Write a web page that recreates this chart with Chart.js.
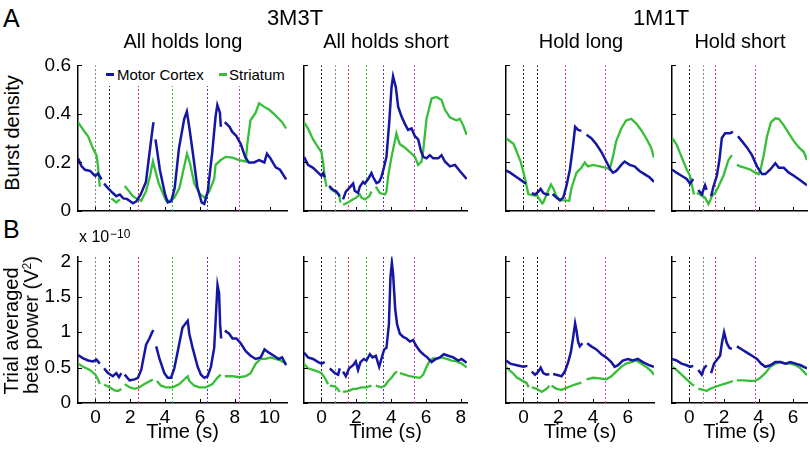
<!DOCTYPE html>
<html>
<head>
<meta charset="utf-8">
<script src="https://cdn.jsdelivr.net/npm/chart.js@4.4.1/dist/chart.umd.min.js"></script>
<style>
  body { margin: 0; width: 810px; height: 450px; background: #fff; position: relative; overflow: hidden;
         font-family: "Liberation Sans", Arial, sans-serif; color: #000; }
  canvas { position: absolute; }
  .txt { position: absolute; white-space: nowrap; line-height: 1; }
</style>
</head>
<body>
<script>
// ---- data: [time (s), value], null value = break in the trace ----
const xTicksLong = [0, 2, 4, 6, 8, 10];
const xTicksShort = [0, 2, 4, 6, 8];
const xTicksHold = [0, 2, 4, 6];
const burstTicks = [0, 0.2, 0.4, 0.6];
const powerTicks = [0, 0.5, 1, 1.5, 2];

// event markers (s) for each task
const eventsLong = [0, 0.78, 2.42, 4.4, 6.38, 8.27];
const eventsShort = [0, 0.77, 1.5, 2.53, 3.54, 5.32];
const eventsHoldLong = [0, 0.8, 2.4, 4.67];
const eventsHoldShort = [0, 0.77, 1.49, 3.77];

// burst density
const burstLongMotor = [[-1,0.217],[-0.8,0.185],[-0.6,0.17],[-0.3,0.165],[-0.1,0.15],[0,0.145],[0.15,0.155],[0.35,0.13],[0.42,null],[0.5,0.113],[0.72,0.094],[1.0,0.074],[1.2,0.061],[1.4,0.068],[1.6,0.052],[1.8,0.05],[2.0,0.04],[2.15,0.032],[2.35,0.04],[2.6,0.068],[2.9,0.12],[3.1,0.236],[3.3,0.35],[3.34,0.366],[3.4,null],[3.45,0.295],[3.7,0.17],[4.0,0.068],[4.15,0.035],[4.35,0.04],[4.55,0.094],[4.8,0.26],[5.1,0.38],[5.25,0.41],[5.4,0.34],[5.6,0.236],[5.85,0.1],[6.1,0.035],[6.25,0.029],[6.45,0.08],[6.7,0.236],[6.9,0.39],[7.0,0.437],[7.15,0.405],[7.2,0.347],[7.3,null],[7.43,0.366],[7.7,0.347],[7.85,0.327],[8.1,0.308],[8.35,0.275],[8.6,0.223],[8.8,0.2],[9.1,0.2],[9.4,0.21],[9.7,0.2],[9.85,0.236],[10.05,0.217],[10.35,0.18],[10.6,0.17],[10.95,0.13]];
const burstLongStriatum = [[-1,0.366],[-0.7,0.334],[-0.42,0.308],[-0.13,0.256],[0.06,0.23],[0.15,0.184],[0.25,0.1],[0.6,null],[0.9,0.05],[1.0,0.048],[1.2,0.035],[1.4,0.048],[1.55,null],[1.68,0.103],[1.87,0.087],[2.15,0.061],[2.44,0.048],[2.63,0.042],[2.9,0.08],[3.14,0.145],[3.3,0.204],[3.5,0.15],[3.64,0.113],[3.87,0.074],[4.06,0.042],[4.35,0.044],[4.53,0.055],[4.82,0.094],[5.1,0.184],[5.26,0.236],[5.43,0.197],[5.68,0.113],[5.96,0.074],[6.25,0.055],[6.53,0.08],[6.82,0.132],[6.9,0.19],[7.2,0.21],[7.49,0.223],[7.87,0.22],[8.25,0.21],[8.63,0.204],[8.72,0.275],[8.9,0.373],[9.2,0.405],[9.4,0.444],[9.67,0.43],[9.96,0.418],[10.25,0.4],[10.53,0.38],[10.72,0.366],[10.95,0.34]];
const burstShortMotor = [[-1,0.223],[-0.77,0.19],[-0.48,0.178],[-0.19,0.158],[0,0.145],[0.1,0.156],[0.19,0.139],[0.3,null],[0.44,0.103],[0.67,0.087],[0.86,0.08],[1.05,0.061],[1.15,null],[1.24,0.048],[1.4,0.08],[1.59,0.094],[1.82,0.113],[1.91,0.083],[2.1,0.074],[2.2,0.1],[2.39,0.12],[2.49,0.113],[2.68,0.132],[2.87,0.156],[2.97,0.139],[3.16,0.115],[3.31,0.12],[3.44,0.14],[3.58,0.178],[3.73,0.223],[3.89,0.366],[4.02,0.509],[4.11,0.555],[4.27,0.509],[4.4,0.43],[4.59,0.39],[4.78,0.36],[4.97,0.334],[5.17,0.34],[5.36,0.308],[5.55,0.295],[5.7,0.25],[5.84,0.223],[6.03,0.217],[6.22,0.23],[6.41,0.217],[6.7,0.217],[6.89,0.23],[7.08,0.204],[7.37,0.184],[7.66,0.19],[7.94,0.165],[8.33,0.132]];
const burstShortStriatum = [[-1,0.366],[-0.77,0.34],[-0.48,0.295],[-0.19,0.262],[0,0.243],[0.1,0.197],[0.19,0.139],[0.29,0.1],[0.38,null],[0.48,0.094],[0.76,0.08],[1.01,0.068],[1.09,0.035],[1.16,null],[1.24,0.026],[1.52,0.035],[1.82,0.048],[2.0,0.055],[2.2,0.068],[2.3,0.055],[2.49,0.048],[2.74,0.061],[2.87,0.08],[3.0,null],[3.12,0.1],[3.35,0.074],[3.64,0.068],[3.73,0.08],[3.83,0.145],[4.02,0.223],[4.21,0.288],[4.3,0.32],[4.4,0.295],[4.5,0.275],[4.78,0.262],[5.07,0.243],[5.36,0.223],[5.55,0.19],[5.74,0.204],[5.84,0.25],[6.03,0.38],[6.32,0.464],[6.6,0.47],[6.89,0.457],[7.08,0.418],[7.37,0.386],[7.75,0.373],[7.94,0.38],[8.13,0.353],[8.33,0.314]];
const burstHoldLongMotor = [[-1,0.167],[-0.76,0.158],[-0.38,0.139],[0,0.12],[0.15,0.113],[0.3,null],[0.48,0.074],[0.67,0.068],[0.86,0.08],[0.99,0.091],[1.14,0.074],[1.33,0.068],[1.49,0.068],[1.58,null],[1.68,0.07],[1.9,0.055],[2.1,0.044],[2.29,0.055],[2.48,0.106],[2.67,0.171],[2.86,0.275],[2.97,0.347],[3.14,0.334],[3.33,0.33],[3.48,null],[3.62,0.314],[3.9,0.3],[4.19,0.275],[4.48,0.243],[4.76,0.204],[5.0,0.171],[5.14,0.158],[5.33,0.165],[5.62,0.19],[5.81,0.204],[6.1,0.19],[6.38,0.184],[6.67,0.165],[6.95,0.152],[7.24,0.139],[7.5,0.12]];
const burstHoldLongStriatum = [[-1,0.3],[-0.57,0.277],[-0.17,0.206],[0.1,0.132],[0.28,0.07],[0.5,0.065],[0.8,0.062],[1.08,0.031],[1.14,0.035],[1.33,0.068],[1.58,0.109],[1.71,0.094],[1.9,0.061],[2.1,0.045],[2.38,0.044],[2.63,0.042],[2.76,0.094],[3.05,0.158],[3.33,0.178],[3.52,0.2],[3.71,0.184],[4.0,0.19],[4.38,0.184],[4.76,0.178],[4.95,0.171],[5.14,0.223],[5.33,0.288],[5.62,0.34],[5.9,0.373],[6.19,0.38],[6.48,0.36],[6.76,0.334],[7.05,0.3],[7.33,0.262],[7.5,0.22]];
const burstHoldShortMotor = [[-1,0.171],[-0.74,0.158],[-0.45,0.145],[-0.15,0.132],[0.04,0.113],[0.23,0.132],[0.35,null],[0.52,0.087],[0.72,0.068],[0.91,0.106],[1.0,0.087],[1.12,null],[1.26,0.061],[1.39,0.1],[1.59,0.145],[1.74,0.21],[1.88,0.301],[2.07,0.32],[2.36,0.32],[2.52,0.327],[2.65,null],[2.81,0.308],[3.04,0.288],[3.33,0.262],[3.62,0.23],[3.91,0.184],[4.2,0.152],[4.39,0.152],[4.68,0.171],[4.97,0.197],[5.17,0.178],[5.46,0.178],[5.75,0.158],[6.04,0.145],[6.43,0.126],[6.8,0.106]];
const burstHoldShortStriatum = [[-1,0.301],[-0.74,0.275],[-0.45,0.223],[-0.15,0.171],[0.04,0.145],[0.19,0.094],[0.27,0.068],[0.35,null],[0.43,0.074],[0.62,0.068],[0.91,0.055],[1.1,0.029],[1.2,0.042],[1.3,0.061],[1.49,0.074],[1.68,0.1],[1.97,0.145],[2.26,0.21],[2.46,0.23],[2.6,null],[2.75,0.19],[2.94,0.184],[3.23,0.178],[3.52,0.171],[3.81,0.158],[4.01,0.152],[4.14,0.178],[4.3,0.23],[4.49,0.308],[4.72,0.366],[4.97,0.382],[5.17,0.38],[5.46,0.353],[5.75,0.32],[6.04,0.288],[6.33,0.262],[6.62,0.243],[6.8,0.21]];

// trial averaged beta power (x 1e-10 V^2)
const powerLongMotor = [[-1,0.676],[-0.7,0.631],[-0.42,0.6],[-0.13,0.587],[0.06,0.613],[0.25,0.556],[0.38,null],[0.5,0.489],[0.72,0.422],[1.0,0.378],[1.2,0.422],[1.35,0.364],[1.49,0.422],[1.58,null],[1.68,0.4],[1.96,0.32],[2.25,0.333],[2.44,0.356],[2.63,0.467],[2.91,0.822],[3.1,0.911],[3.26,1.0],[3.33,1.03],[3.41,null],[3.49,0.8],[3.68,0.622],[3.96,0.422],[4.15,0.356],[4.34,0.356],[4.53,0.489],[4.82,0.844],[5.0,1.067],[5.2,1.13],[5.3,1.16],[5.39,0.978],[5.58,0.778],[5.87,0.511],[6.06,0.4],[6.25,0.356],[6.44,0.378],[6.63,0.511],[6.82,0.778],[6.91,1.2],[7.01,1.667],[7.1,1.556],[7.16,1.11],[7.22,0.911],[7.32,null],[7.43,1.022],[7.68,0.978],[7.87,0.911],[8.1,0.911],[8.34,0.844],[8.63,0.733],[8.91,0.667],[9.2,0.622],[9.49,0.644],[9.71,0.756],[9.96,0.711],[10.25,0.667],[10.53,0.622],[10.72,0.644],[10.95,0.533]];
const powerLongStriatum = [[-1,0.556],[-0.7,0.511],[-0.32,0.467],[0,0.4],[0.15,0.333],[0.25,0.267],[0.38,null],[0.5,0.258],[0.82,0.222],[1.1,0.178],[1.3,0.169],[1.49,0.2],[1.58,null],[1.68,0.267],[1.96,0.222],[2.25,0.2],[2.53,0.222],[2.82,0.267],[3.3,0.333],[3.41,null],[3.52,0.311],[3.77,0.244],[4.06,0.222],[4.44,0.222],[4.82,0.267],[5.2,0.356],[5.3,0.378],[5.39,0.311],[5.68,0.244],[5.96,0.222],[6.34,0.222],[6.72,0.267],[7.0,0.356],[7.2,0.4],[7.32,null],[7.43,0.378],[7.87,0.378],[8.25,0.364],[8.63,0.378],[8.91,0.422],[9.2,0.556],[9.49,0.622],[9.77,0.622],[10.06,0.644],[10.34,0.622],[10.63,0.6],[10.95,0.556]];
const powerShortMotor = [[-1,0.711],[-0.77,0.644],[-0.48,0.622],[-0.19,0.578],[0,0.556],[0.19,0.578],[0.32,null],[0.48,0.489],[0.77,0.422],[0.96,0.4],[1.05,0.489],[1.15,null],[1.24,0.444],[1.4,0.378],[1.59,0.489],[1.82,0.533],[1.97,0.587],[2.1,0.467],[2.24,0.578],[2.43,0.622],[2.58,0.6],[2.78,0.689],[2.93,0.644],[3.12,0.667],[3.31,0.511],[3.44,0.622],[3.6,0.756],[3.73,0.778],[3.87,1.11],[3.96,1.778],[4.04,1.978],[4.11,1.822],[4.23,1.333],[4.34,1.11],[4.5,0.978],[4.69,0.933],[4.88,0.911],[5.07,0.867],[5.26,0.889],[5.45,0.8],[5.65,0.733],[5.84,0.689],[6.07,0.644],[6.32,0.578],[6.56,0.622],[6.79,0.644],[7.02,0.689],[7.27,0.667],[7.56,0.644],[7.85,0.6],[8.04,0.622],[8.33,0.569]];
const powerShortStriatum = [[-1,0.556],[-0.77,0.489],[-0.48,0.467],[-0.19,0.444],[0,0.422],[0.19,0.356],[0.38,0.267],[0.43,null],[0.48,0.244],[0.77,0.236],[0.96,0.187],[1.05,0.156],[1.15,null],[1.24,0.156],[1.53,0.169],[1.82,0.2],[2.0,0.2],[2.3,0.222],[2.58,0.222],[2.87,0.244],[3.0,null],[3.12,0.244],[3.44,0.222],[3.64,0.244],[3.83,0.311],[4.02,0.356],[4.21,0.422],[4.34,0.444],[4.42,null],[4.5,0.422],[4.78,0.4],[5.07,0.378],[5.36,0.364],[5.65,0.356],[5.84,0.4],[6.03,0.511],[6.22,0.6],[6.41,0.631],[6.6,0.622],[6.89,0.644],[7.18,0.622],[7.47,0.6],[7.75,0.587],[8.04,0.556],[8.33,0.502]];
const powerHoldLongMotor = [[-1,0.6],[-0.76,0.556],[-0.38,0.533],[0,0.511],[0.23,0.524],[0.35,null],[0.48,0.444],[0.67,0.4],[0.86,0.444],[0.99,0.498],[1.14,0.422],[1.33,0.4],[1.49,0.409],[1.6,null],[1.71,0.409],[2.0,0.391],[2.19,0.378],[2.38,0.444],[2.57,0.578],[2.72,0.711],[2.86,0.933],[2.97,1.124],[3.05,1.022],[3.14,0.867],[3.24,0.8],[3.39,0.844],[3.52,null],[3.66,0.844],[3.9,0.8],[4.19,0.756],[4.48,0.689],[4.76,0.644],[5.05,0.578],[5.24,0.511],[5.43,0.533],[5.71,0.6],[6.0,0.622],[6.29,0.6],[6.57,0.622],[6.86,0.578],[7.24,0.533],[7.5,0.511]];
const powerHoldLongStriatum = [[-1,0.507],[-0.57,0.413],[-0.38,0.36],[-0.1,0.32],[0.19,0.28],[0.3,0.222],[0.38,null],[0.48,0.222],[0.76,0.2],[1.05,0.156],[1.33,0.2],[1.49,0.244],[1.56,null],[1.62,0.244],[1.9,0.2],[2.19,0.187],[2.48,0.213],[2.76,0.244],[3.05,0.267],[3.33,0.289],[3.48,null],[3.62,0.333],[4.0,0.356],[4.38,0.347],[4.76,0.333],[5.05,0.378],[5.33,0.444],[5.62,0.511],[5.9,0.556],[6.19,0.578],[6.48,0.6],[6.76,0.556],[7.05,0.511],[7.33,0.453],[7.5,0.4]];
const powerHoldShortMotor = [[-1,0.622],[-0.74,0.6],[-0.45,0.556],[-0.15,0.533],[0.04,0.511],[0.23,0.524],[0.35,null],[0.52,0.467],[0.72,0.4],[0.85,0.489],[1.0,0.533],[1.12,null],[1.26,0.422],[1.43,0.556],[1.63,0.622],[1.78,0.667],[1.88,0.844],[2.01,1.0],[2.17,0.844],[2.32,0.778],[2.46,0.764],[2.6,null],[2.75,0.8],[3.04,0.756],[3.33,0.711],[3.62,0.667],[3.91,0.622],[4.14,0.556],[4.39,0.511],[4.68,0.533],[4.97,0.578],[5.26,0.578],[5.55,0.556],[5.84,0.578],[6.14,0.556],[6.43,0.533],[6.8,0.489]];
const powerHoldShortStriatum = [[-1,0.511],[-0.74,0.467],[-0.45,0.4],[-0.15,0.333],[0.14,0.267],[0.27,0.244],[0.35,null],[0.52,0.2],[0.81,0.187],[1.0,0.169],[1.2,0.2],[1.43,0.222],[1.68,0.244],[1.97,0.267],[2.26,0.289],[2.52,0.311],[2.62,null],[2.75,0.32],[3.14,0.32],[3.52,0.311],[3.81,0.311],[4.1,0.356],[4.39,0.422],[4.68,0.511],[4.97,0.556],[5.26,0.578],[5.55,0.556],[5.84,0.556],[6.14,0.533],[6.43,0.489],[6.8,0.391]];

// ---- styles ----
const MOTOR = '#1616a4';
const STRIATUM = '#36bf36';
const EV = { k: '#222', g: '#888', r: '#e03030', gr: '#20c820', b: '#3a3ad8', m: '#dc30dc' };
const colorsLong = [EV.g, EV.k, EV.r, EV.gr, EV.b, EV.m];
const colorsShort = [EV.k, EV.g, EV.r, EV.gr, EV.b, EV.m];
const colorsHoldLong = [EV.k, EV.k, EV.r, EV.m];
const colorsHoldShort = [EV.k, EV.g, EV.r, EV.m];
const FONT = '"Liberation Sans", Arial, sans-serif';

const PAD_L = 50, PAD_T = 10, PAD_R = 10, PAD_B = 35;
const cols = [
  { left: 78,  w: 209, xMax: 11,   xTicks: xTicksLong,  events: eventsLong,      evColors: colorsLong },
  { left: 304, w: 163, xMax: 8.35, xTicks: xTicksShort, events: eventsShort,     evColors: colorsShort },
  { left: 506, w: 148, xMax: 7.5,  xTicks: xTicksHold,  events: eventsHoldLong,  evColors: colorsHoldLong },
  { left: 672, w: 135, xMax: 6.8,  xTicks: xTicksHold,  events: eventsHoldShort, evColors: colorsHoldShort }
];
const rows = [
  { top: 57,  h: 154, yMax: 0.6,  yTicks: burstTicks, showX: false,
    motor: [burstLongMotor, burstShortMotor, burstHoldLongMotor, burstHoldShortMotor],
    striatum: [burstLongStriatum, burstShortStriatum, burstHoldLongStriatum, burstHoldShortStriatum] },
  { top: 248, h: 155, yMax: 2.07, yTicks: powerTicks, showX: true,
    motor: [powerLongMotor, powerShortMotor, powerHoldLongMotor, powerHoldShortMotor],
    striatum: [powerLongStriatum, powerShortStriatum, powerHoldLongStriatum, powerHoldShortStriatum] }
];

// dashed task-event markers, snapped to the pixel grid so the colours stay crisp
const eventLines = {
  id: 'eventLines',
  beforeDatasetsDraw(chart, args, opts) {
    const { ctx, chartArea: a, scales: { x } } = chart;
    ctx.save();
    ctx.lineWidth = 1;
    ctx.setLineDash([2, 2]);
    opts.events.forEach((e, i) => {
      const px = Math.round(x.getPixelForValue(e)) + 0.5;
      ctx.strokeStyle = opts.colors[i];
      ctx.beginPath();
      ctx.moveTo(px, a.bottom);
      ctx.lineTo(px, a.top);
      ctx.stroke();
    });
    ctx.restore();
  }
};

// MATLAB style ticks pointing into the axes
const inwardTicks = {
  id: 'inwardTicks',
  afterDatasetsDraw(chart) {
    const { ctx, chartArea: a, scales: { x, y } } = chart;
    ctx.save();
    ctx.strokeStyle = '#000';
    ctx.lineWidth = 1;
    ctx.beginPath();
    x.ticks.forEach(t => {
      const px = Math.round(x.getPixelForValue(t.value)) + 0.5;
      ctx.moveTo(px, a.bottom); ctx.lineTo(px, a.bottom - 4);
    });
    y.ticks.forEach(t => {
      const py = Math.round(y.getPixelForValue(t.value)) + 0.5;
      ctx.moveTo(a.left, py); ctx.lineTo(a.left + 4, py);
    });
    ctx.stroke();
    ctx.restore();
  }
};

const toPoints = pairs => pairs.map(p => ({ x: p[0], y: p[1] }));

function makePanel(row, col, ci) {
  const cv = document.createElement('canvas');
  const W = col.w + PAD_L + PAD_R, H = row.h + PAD_T + PAD_B;
  cv.width = W; cv.height = H;
  cv.style.left = (col.left - PAD_L) + 'px';
  cv.style.top = (row.top - PAD_T) + 'px';
  cv.style.width = W + 'px'; cv.style.height = H + 'px';
  document.body.appendChild(cv);

  new Chart(cv, {
    type: 'line',
    data: {
      datasets: [
        { label: 'Motor Cortex', data: toPoints(row.motor[ci]), borderColor: MOTOR,
          borderWidth: 2.5, pointRadius: 0, spanGaps: false, order: 0 },
        { label: 'Striatum', data: toPoints(row.striatum[ci]), borderColor: STRIATUM,
          borderWidth: 2.3, pointRadius: 0, spanGaps: false, order: 1 }
      ]
    },
    options: {
      responsive: false,
      animation: false,
      layout: { padding: { left: 0, top: PAD_T, right: PAD_R, bottom: 0 }, autoPadding: false },
      plugins: {
        legend: { display: false },
        tooltip: { enabled: false },
        eventLines: { events: col.events, colors: col.evColors }
      },
      scales: {
        x: {
          type: 'linear', min: -1, max: col.xMax,
          afterBuildTicks: s => { s.ticks = col.xTicks.map(v => ({ value: v })); },
          afterFit: s => { s.height = PAD_B; },
          grid: { display: false, drawTicks: false },
          border: { display: true, color: '#000', width: 1.5 },
          ticks: { padding: 3, autoSkip: false, maxRotation: 0, color: '#000',
                   font: { family: FONT, size: 19 },
                   callback: v => row.showX ? String(v) : '' }
        },
        y: {
          type: 'linear', min: 0, max: row.yMax,
          afterBuildTicks: s => { s.ticks = row.yTicks.map(v => ({ value: v })); },
          afterFit: s => { s.width = PAD_L; },
          grid: { display: false, drawTicks: false },
          border: { display: true, color: '#000', width: 1.5 },
          ticks: { padding: 7, color: '#000', font: { family: FONT, size: 19 },
                   callback: v => ci === 0 ? String(v) : '' }
        }
      }
    },
    plugins: [eventLines, inwardTicks]
  });
}

rows.forEach(row => cols.forEach((col, ci) => makePanel(row, col, ci)));

// ---- text ----
function addText(html, x, baseline, size, opts = {}) {
  const d = document.createElement('div');
  d.className = 'txt';
  d.innerHTML = html;
  d.style.fontSize = size + 'px';
  if (opts.rotate) {
    d.style.left = x + 'px';
    d.style.top = baseline + 'px';
    d.style.transform = 'translate(-50%, -50%) rotate(-90deg)';
  } else {
    d.style.left = x + 'px';
    d.style.top = (baseline - 0.8465 * size) + 'px';
    if (opts.center) d.style.transform = 'translateX(-50%)';
  }
  document.body.appendChild(d);
  return d;
}

addText('A', 3, 27, 25);
addText('B', 3, 238, 25);
addText('3M3T', 295, 26, 22, { center: true });
addText('1M1T', 661, 26, 22, { center: true });
addText('All holds long', 183, 48, 20, { center: true });
addText('All holds short', 386, 48, 20, { center: true });
addText('Hold long', 581, 48, 20, { center: true });
addText('Hold short', 740, 48, 20, { center: true });

addText('Burst density', 12, 133, 20, { rotate: true });
addText('Trial averaged', 11, 331, 20, { rotate: true });
addText('beta power (V<sup style="font-size:12px;vertical-align:7px">2</sup>)', 31, 325, 20, { rotate: true });
addText('x 10', 79, 243, 16);
addText('\u221210', 110, 238, 12);

cols.forEach(col => addText('Time (s)', col.left + col.w / 2, 438, 20, { center: true }));

// legend (white box over the event markers)
const lg = document.createElement('div');
lg.style.cssText = 'position:absolute;left:101px;top:64px;width:186px;height:22px;background:#fff';
document.body.appendChild(lg);
[[106, MOTOR], [219, STRIATUM]].forEach(([x, c]) => {
  const s = document.createElement('div');
  s.style.cssText = `position:absolute;left:${x}px;top:73px;width:8px;height:2.5px;background:${c}`;
  document.body.appendChild(s);
});
addText('Motor Cortex', 117, 80, 15);
addText('Striatum', 229, 80, 15);
</script>
</body>
</html>
